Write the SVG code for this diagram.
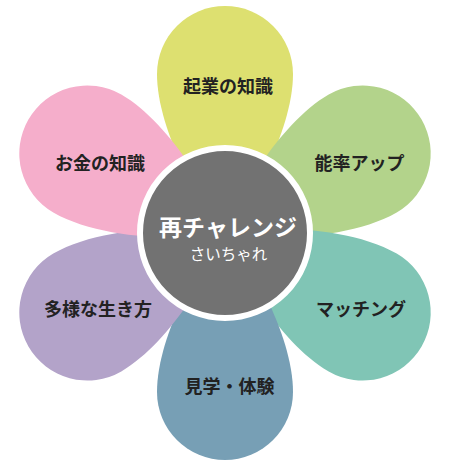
<svg xmlns="http://www.w3.org/2000/svg" width="458" height="468" viewBox="0 0 458 468">
<defs>
<style>
.lbl{font-family:"Noto Sans CJK JP","Noto Sans",sans-serif;font-weight:bold;font-size:18px;fill:#222222;text-anchor:middle;dominant-baseline:central}
.t1{font-family:"Noto Sans CJK JP","Noto Sans",sans-serif;font-weight:bold;font-size:23px;fill:#ffffff;text-anchor:middle;dominant-baseline:central}
.t2{font-family:"Noto Sans CJK JP","Noto Sans",sans-serif;font-size:15.5px;fill:#ffffff;text-anchor:middle;dominant-baseline:central}
</style>
<path id="petal" d="M0,0 C-20,-20 -68,-100 -68,-159 A68,68 0 0 1 68,-159 C68,-100 20,-20 0,0 Z"/>
</defs>
<rect width="458" height="468" fill="#ffffff"/>
<g id="connectors"></g>
<g id="petal-top"><use href="#petal" transform="translate(225,233)" fill="#dde070"/><text class="lbl" x="228" y="85">起業の知識</text></g>
<g id="petal-upper-right"><use href="#petal" transform="translate(225,233) rotate(60)" fill="#b3d38b"/><text class="lbl" x="359.5" y="162">能率アップ</text></g>
<g id="petal-lower-right"><use href="#petal" transform="translate(225,233) rotate(120)" fill="#80c5b5"/><text class="lbl" x="361" y="308">マッチング</text></g>
<g id="petal-bottom"><use href="#petal" transform="translate(225,233) rotate(180)" fill="#779fb5"/><text class="lbl" x="229.5" y="385">見学・体験</text></g>
<g id="petal-lower-left"><use href="#petal" transform="translate(225,233) rotate(240)" fill="#b3a3c9"/><text class="lbl" x="98" y="308">多様な生き方</text></g>
<g id="petal-upper-left"><use href="#petal" transform="translate(225,233) rotate(300)" fill="#f5aecb"/><text class="lbl" x="100" y="162">お金の知識</text></g>
<g id="center">
<circle cx="225" cy="233" r="85" fill="#727272" stroke="#ffffff" stroke-width="6"/>
<text class="t1" x="228" y="226">再チャレンジ</text>
<text class="t2" x="228.5" y="253">さいちゃれ</text>
</g>
</svg>
